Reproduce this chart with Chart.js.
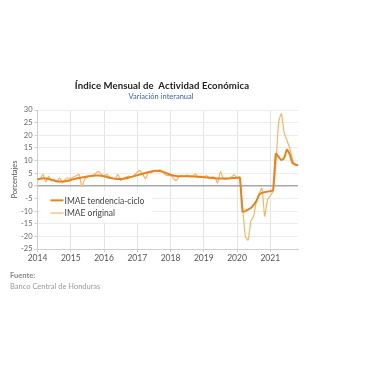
<!DOCTYPE html>
<html>
<head>
<meta charset="utf-8">
<script src="https://cdn.jsdelivr.net/npm/chart.js@4"></script>
<style>
  html,body{margin:0;padding:0;background:#fff;}
  #wrap{position:relative;width:380px;height:380px;overflow:hidden;font-family:Lato,"DejaVu Sans",sans-serif;}
  #c{position:absolute;left:0;top:0;}
  .t{position:absolute;white-space:nowrap;}
  #title{left:0;width:324px;top:80px;text-align:center;font-size:9.6px;font-weight:bold;color:#222;letter-spacing:0.1px;}
  #sub{left:0;width:322px;top:92px;text-align:center;font-size:7.5px;color:#3a64a8;}
  #src1{left:10px;top:271px;font-size:7.5px;font-weight:bold;color:#8a8a8a;}
  #src2{left:10px;top:282px;font-size:7.5px;color:#9a9a9a;}
</style>
</head>
<body>
<div id="wrap">
  <canvas id="c" width="380" height="380"></canvas>
  <div class="t" id="title">Índice Mensual de&nbsp; Actividad Económica</div>
  <div class="t" id="sub">Variación interanual</div>
  <div class="t" id="src1">Fuente:</div>
  <div class="t" id="src2">Banco Central de Honduras</div>
</div>
<script>
// Monthly periods Jan 2014 .. Nov 2021
const years = [2014, 2015, 2016, 2017, 2018, 2019, 2020, 2021];
const lastMonth2021 = 11;
const seriesNames = ["IMAE tendencia-ciclo", "IMAE original"];

const tendenciaCiclo = [
  2.5, 2.8, 3.0, 2.9, 2.7, 2.4, 2.1, 1.8, 1.7, 1.7, 1.8, 2.0,
  2.3, 2.6, 2.9, 3.1, 3.3, 3.5, 3.7, 3.9, 4.0, 4.1, 4.1, 4.0,
  3.8, 3.5, 3.2, 3.0, 2.8, 2.7, 2.7, 2.8, 3.0, 3.3, 3.6, 3.9,
  4.2, 4.5, 4.8, 5.1, 5.4, 5.7, 5.9, 6.0, 5.9, 5.6, 5.2, 4.8,
  4.4, 4.1, 3.9, 3.8, 3.8, 3.8, 3.8, 3.8, 3.7, 3.7, 3.6, 3.5,
  3.4, 3.3, 3.2, 3.1, 3.0, 2.9, 2.9, 2.9, 2.9, 2.9, 3.0, 3.1,
  3.2, 3.2, -10.2, -10.0, -9.4, -8.8, -7.5, -6.0, -3.5, -2.8, -2.5, -2.3,
  -2.1, -1.8, 12.7, 11.5, 10.2, 11.0, 14.3, 12.5, 9.0, 8.5, 8.0
];

const original = [
  2.5, 3.0, 4.5, 1.5, 3.8, 1.8, 2.5, 1.5, 3.2, 1.2, 2.5, 3.2,
  2.8, 3.5, 4.0, 4.5, -0.3, 2.5, 3.5, 3.8, 4.0, 5.0, 5.7, 4.5,
  3.8, 4.5, 3.5, 3.0, 2.8, 4.5, 2.0, 3.0, 3.5, 3.8, 3.5, 4.2,
  5.5, 6.0, 4.5, 2.8, 5.5, 5.0, 6.0, 5.5, 6.3, 5.8, 4.5, 4.0,
  4.2, 3.0, 2.0, 3.5, 4.0, 3.8, 4.2, 3.5, 3.8, 4.8, 3.2, 3.8,
  3.5, 4.0, 3.0, 3.5, 3.2, 1.2, 5.6, 3.0, 2.5, 3.0, 3.5, 4.3,
  3.0, 3.5, -8.0, -20.0, -21.5, -14.0, -12.0, -6.0, -3.0, -1.0, -12.0, -5.5,
  -4.0, -2.0, 8.0, 25.0, 28.5, 21.0, 18.0, 15.0, 10.5, 8.0, 8.5
];

const yTicks = { min: -25, max: 30, step: 5 };

// build month labels "YYYY-MM"
const labels = [];
years.forEach(y => {
  const n = (y === 2021) ? lastMonth2021 : 12;
  for (let m = 1; m <= n; m++) labels.push(y + '-' + String(m).padStart(2, '0'));
});
const isJan = (i) => labels[i] && labels[i].endsWith('-01');

const legendInChart = {
  id: 'legendInChart',
  afterDatasetsDraw(chart) {
    const ctx = chart.ctx;
    const x0 = chart.chartArea.left + 3;
    const y0 = chart.scales.y.getPixelForValue(-1.8);
    ctx.save();
    ctx.fillStyle = '#ffffff';
    ctx.fillRect(x0, y0, 112, 32);
    const items = chart.data.datasets.map(d => ({ text: d.label, color: d.borderColor, w: d.borderWidth }));
    ctx.font = '8.5px Lato, "DejaVu Sans", sans-serif';
    ctx.textBaseline = 'middle';
    items.forEach((it, k) => {
      const yy = y0 + 10 + k * 12.7;
      ctx.strokeStyle = it.color;
      ctx.lineWidth = it.w;
      ctx.beginPath();
      ctx.moveTo(x0 + 10, yy);
      ctx.lineTo(x0 + 23, yy);
      ctx.stroke();
      ctx.fillStyle = '#444';
      ctx.fillText(it.text, x0 + 24, yy + 0.5);
    });
    ctx.restore();
  }
};

new Chart(document.getElementById('c'), {
  type: 'line',
  data: {
    labels: labels,
    datasets: [
      { label: seriesNames[0], data: tendenciaCiclo, borderColor: '#E8841F', borderWidth: 2, pointRadius: 0, tension: 0.2, order: 1 },
      { label: seriesNames[1], data: original, borderColor: '#F9B468', borderWidth: 1.2, pointRadius: 0, tension: 0.2, order: 2 }
    ]
  },
  options: {
    responsive: false,
    animation: false,
    devicePixelRatio: 1,
    layout: { padding: { left: 10, right: 82, top: 110, bottom: 115 } },
    plugins: { legend: { display: false }, tooltip: { enabled: false }, title: { display: false } },
    scales: {
      x: {
        type: 'category',
        offset: false,
        afterFit: (s) => { s.height = 16; },
        grid: {
          color: (c) => (c.index !== undefined && isJan(c.index)) ? '#e4e4e4' : 'rgba(0,0,0,0)',
          tickColor: (c) => (c.index !== undefined && isJan(c.index)) ? '#cfcfcf' : 'rgba(0,0,0,0)',
          tickLength: 3,
          drawOnChartArea: true
        },
        border: { color: '#cfcfcf' },
        ticks: {
          autoSkip: false,
          maxRotation: 0,
          padding: 1,
          color: '#555',
          font: { family: 'Lato, "DejaVu Sans", sans-serif', size: 8.5 },
          callback: function (v, i) { return isJan(i) ? labels[i].slice(0, 4) : ''; }
        }
      },
      y: {
        min: yTicks.min, max: yTicks.max,
        afterFit: (s) => { s.width = 27.5; },
        grid: {
          color: (c) => (c.tick && c.tick.value === 0) ? '#a8a8a8' : '#ececec',
          lineWidth: (c) => (c.tick && c.tick.value === 0) ? 1.5 : 1,
          tickColor: '#cfcfcf',
          tickLength: 3
        },
        border: { color: '#cfcfcf' },
        ticks: {
          stepSize: yTicks.step,
          padding: 2,
          color: '#666',
          font: { family: 'Lato, "DejaVu Sans", sans-serif', size: 7.5 }
        },
        title: {
          display: true,
          text: 'Porcentajes',
          color: '#555',
          padding: 0,
          font: { family: 'Lato, "DejaVu Sans", sans-serif', size: 7.5 }
        }
      }
    }
  },
  plugins: [legendInChart]
});
</script>
</body>
</html>
